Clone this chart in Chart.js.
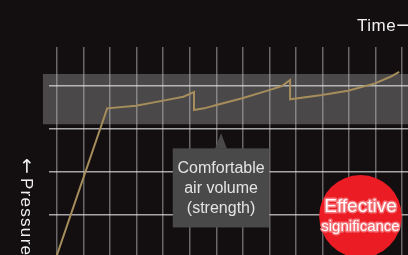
<!DOCTYPE html>
<html><head><meta charset="utf-8">
<script src="https://cdn.jsdelivr.net/npm/chart.js@4"></script>
<style>
html,body{margin:0;padding:0;overflow:hidden;background:#130f10}
#wrap{width:408px;height:258px;position:relative}
</style>
</head><body><div id="wrap"><canvas id="c"></canvas></div>
<script>
// ---- data ----
const timeValues     = [-0.04, 1.89, 2.98, 4.00, 4.76, 5.16, 5.16, 5.54, 6.01, 7.01, 8.02, 8.47, 8.78, 8.78, 9.98, 10.96, 11.98, 12.58, 12.89];
const pressureValues = [0.00, 3.48, 3.54, 3.66, 3.75, 3.86, 3.44, 3.48, 3.56, 3.72, 3.91, 4.00, 4.14, 3.69, 3.79, 3.89, 4.06, 4.22, 4.33];
const timeTicks      = [0,1,2,3,4,5,6,7,8,9,10,11,12,13];
const pressureTicks  = [1,2,3,4];
const comfortBand    = [3.11, 4.28];
const xTitle = ['Time', '\u27F6'];
const yTitle = ['\u2190', 'Pressure'];
const calloutLines = ['Comfortable', 'air volume', '(strength)'];
const badgeLines = ['Effective', 'significance'];

const FONT = '"Liberation Sans", Arial, Helvetica, sans-serif';
const ARROWFONT = '"DejaVu Sans", sans-serif';

const deco = {
  id: 'deco',
  beforeDraw(chart) {
    const {ctx} = chart, x = chart.scales.x, y = chart.scales.y;
    ctx.save();
    ctx.fillStyle = '#130f10';
    ctx.fillRect(0, 0, chart.width, chart.height);
    const bx = x.getPixelForValue(-0.53);
    const by1 = y.getPixelForValue(comfortBand[1]);
    const by0 = y.getPixelForValue(comfortBand[0]);
    ctx.fillStyle = '#4a4848';
    ctx.fillRect(bx, by1, chart.width - bx, by0 - by1);
    ctx.restore();
  },
  afterDraw(chart) {
    const {ctx} = chart, x = chart.scales.x, y = chart.scales.y;
    ctx.save();
    // callout box
    const l = x.getPixelForValue(4.36), r = x.getPixelForValue(8.0);
    const t = y.getPixelForValue(2.55), b = y.getPixelForValue(0.71);
    ctx.fillStyle = '#4a4949';
    ctx.fillRect(l, t, r - l, b - t);
    ctx.beginPath();
    ctx.moveTo(x.getPixelForValue(5.95), t + 0.5);
    ctx.lineTo(x.getPixelForValue(6.18), y.getPixelForValue(2.90));
    ctx.lineTo(x.getPixelForValue(6.40), t + 0.5);
    ctx.closePath();
    ctx.fill();
    ctx.fillStyle = '#e4e4e4';
    ctx.font = '16px ' + FONT;
    ctx.textAlign = 'center';
    ctx.textBaseline = 'alphabetic';
    const cx = x.getPixelForValue(6.18);
    calloutLines.forEach((s, i) => ctx.fillText(s, cx, t + 24.4 + i * 20));

    // red badge
    const ccx = x.getPixelForValue(11.43), ccy = y.getPixelForValue(0.97);
    const rad = 41.3;
    ctx.fillStyle = '#ec1c24';
    ctx.beginPath();
    ctx.arc(ccx, ccy, rad, 0, Math.PI * 2);
    ctx.fill();
    ctx.lineJoin = 'round';
    ctx.strokeStyle = '#f47479';
    ctx.lineWidth = 3;
    ctx.fillStyle = '#ffffff';
    ctx.font = '19px ' + FONT;
    ctx.strokeText(badgeLines[0], ccx, ccy - 4.6);
    ctx.fillText(badgeLines[0], ccx, ccy - 4.6);
    ctx.font = '15px ' + FONT;
    ctx.strokeText(badgeLines[1], ccx, ccy + 14.4);
    ctx.fillText(badgeLines[1], ccx, ccy + 14.4);

    // axis titles
    ctx.fillStyle = '#f0f0f0';
    ctx.textAlign = 'left';
    ctx.font = '17px ' + FONT;
    ctx.letterSpacing = '0.5px';
    ctx.fillText(xTitle[0], 357, 31);
    const tw = ctx.measureText(xTitle[0]).width;
    ctx.letterSpacing = '0px';
    ctx.font = '18px ' + ARROWFONT;
    ctx.fillText(xTitle[1], 357 + tw, 31);

    ctx.translate(20.5, 158);
    ctx.rotate(Math.PI / 2);
    ctx.font = '19px ' + ARROWFONT;
    ctx.fillText(yTitle[0], 0, 0);
    const aw = ctx.measureText(yTitle[0]).width;
    ctx.font = '17px ' + FONT;
    ctx.letterSpacing = '1.3px';
    ctx.fillText(yTitle[1], aw + 4, 0);
    ctx.restore();
  }
};

new Chart(document.getElementById('c'), {
  type: 'line',
  data: {
    datasets: [{
      data: timeValues.map((t, i) => ({x: t, y: pressureValues[i]})),
      borderColor: '#a68d5c',
      borderWidth: 2,
      pointRadius: 0,
      tension: 0,
      fill: false
    }]
  },
  options: {
    responsive: true,
    maintainAspectRatio: false,
    animation: false,
    devicePixelRatio: 1,
    layout: {padding: {left: 49, top: 47, right: 0, bottom: 0}},
    plugins: {legend: {display: false}, tooltip: {enabled: false}},
    scales: {
      x: {
        type: 'linear', min: -0.301, max: 13.22,
        afterBuildTicks: s => { s.ticks = timeTicks.map(v => ({value: v})); },
        ticks: {display: false},
        grid: {color: 'rgba(210,210,210,0.45)', lineWidth: 1.5, drawTicks: false},
        border: {display: false}
      },
      y: {
        type: 'linear', min: 0, max: 4.907,
        afterBuildTicks: s => { s.ticks = pressureTicks.map(v => ({value: v})); },
        ticks: {display: false},
        grid: {color: 'rgba(225,225,225,0.72)', lineWidth: 1.5, drawTicks: false},
        border: {display: false}
      }
    }
  },
  plugins: [deco]
});
</script>
</body></html>
